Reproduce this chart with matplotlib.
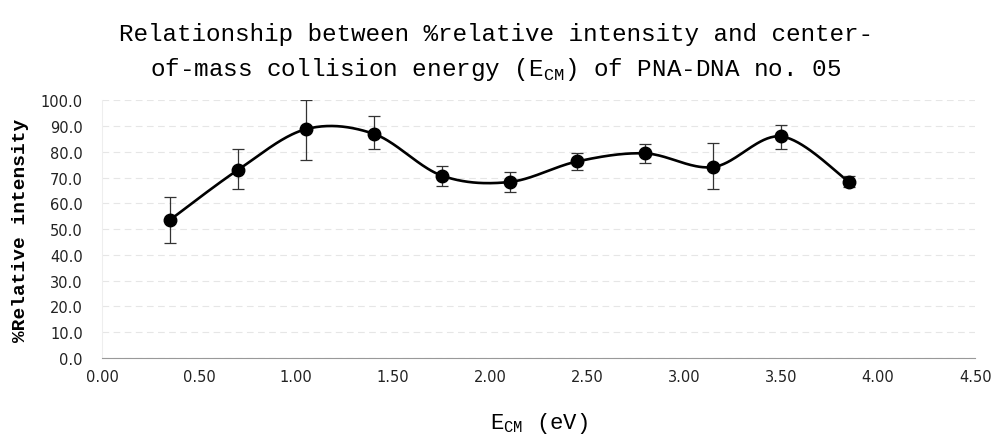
import numpy as np
import matplotlib
matplotlib.use("Agg")
import matplotlib.pyplot as plt

# =========================
# DATA
# =========================
energy = [0.35, 0.70, 1.05, 1.40, 1.75, 2.10, 2.45, 2.80, 3.15, 3.50, 3.85]
intensity = [53.6, 73.0, 88.8, 87.0, 70.8, 68.3, 76.3, 79.4, 74.1, 86.0, 68.3]
err_up = [62.4, 81.0, 100.0, 93.8, 74.6, 72.2, 79.7, 83.0, 83.6, 90.3, 70.6]
err_low = [44.6, 65.4, 76.7, 81.0, 66.6, 64.6, 72.8, 75.8, 65.7, 81.2, 66.3]

x_ticks = [0.0, 0.5, 1.0, 1.5, 2.0, 2.5, 3.0, 3.5, 4.0, 4.5]
y_ticks = [0, 10, 20, 30, 40, 50, 60, 70, 80, 90, 100]


# =========================
# SMOOTHED LINE (Excel style)
# =========================
def smooth_curve(xs, ys, n=40):
    p = np.column_stack([xs, ys])
    pts = [p[0]] + list(p) + [p[-1]]
    out = []
    t = np.linspace(0, 1, n)[:, None]
    for i in range(1, len(pts) - 2):
        p0, p1, p2, p3 = pts[i - 1], pts[i], pts[i + 1], pts[i + 2]
        c1 = p1 + (p2 - p0) / 6
        c2 = p2 - (p3 - p1) / 6
        seg = ((1 - t) ** 3) * p1 + 3 * ((1 - t) ** 2) * t * c1 \
            + 3 * (1 - t) * t ** 2 * c2 + t ** 3 * p2
        out.append(seg)
    out = np.vstack(out)
    return out[:, 0], out[:, 1]


plt.rcParams['mathtext.fontset'] = 'custom'
plt.rcParams['mathtext.rm'] = 'Liberation Mono'

fig = plt.figure(figsize=(9.92, 4.35), dpi=100)
ax = fig.add_axes([0.103, 0.175, 0.880, 0.592])

sx, sy = smooth_curve(energy, intensity)
ax.plot(sx, sy, color='black', lw=1.9, zorder=3)

e = np.array(intensity)
yerr = [e - np.array(err_low), np.array(err_up) - e]
ax.errorbar(energy, intensity, yerr=yerr, fmt='o', color='black',
            ecolor='#333333', elinewidth=0.9, capsize=4, capthick=0.9,
            markersize=9, zorder=4)

ax.set_xlim(0, 4.5)
ax.set_ylim(0, 100)
ax.set_xticks(x_ticks)
ax.set_xticklabels(["%.2f" % v for v in x_ticks])
ax.set_yticks(y_ticks)
ax.set_yticklabels(["%.1f" % v for v in y_ticks])
ax.tick_params(length=0, labelsize=10.5, colors='#222222')
ax.tick_params(axis='x', pad=8)
ax.tick_params(axis='y', pad=14)

ax.grid(axis='y', color='#e6e6e6', lw=0.8, linestyle=(0, (6, 4)))
for s in ['top', 'right']:
    ax.spines[s].set_visible(False)
ax.spines['left'].set_color('#eeeeee')
ax.spines['bottom'].set_color('#999999')

ax.set_xlabel(r"E$_{\mathrm{CM}}$ (eV)", family='Liberation Mono',
              fontsize=16, labelpad=19)
ax.set_ylabel("%Relative intensity", family='Liberation Mono',
              fontweight='bold', fontsize=14, labelpad=8)

fig.text(0.5, 0.878,
         "Relationship between %relative intensity and center-\n"
         r"of-mass collision energy (E$_{\mathrm{CM}}$) of PNA-DNA no. 05",
         ha='center', va='center', family='Liberation Mono', fontsize=17.5,
         linespacing=1.5)

fig.savefig("out.png", dpi=100)
